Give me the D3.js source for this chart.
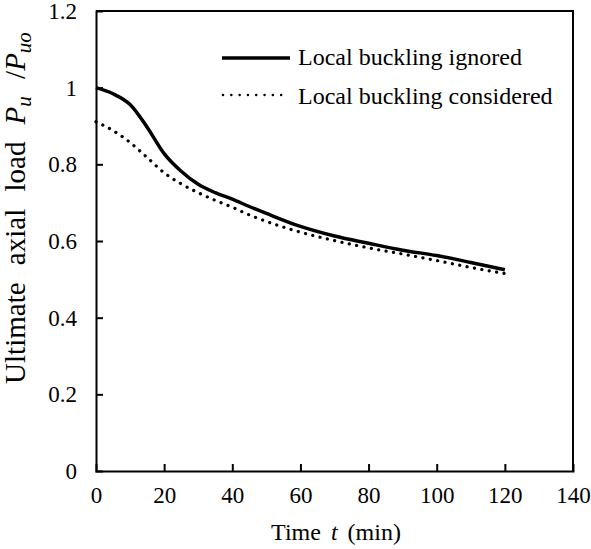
<!DOCTYPE html>
<html>
<head>
<meta charset="utf-8">
<script src="https://cdn.jsdelivr.net/npm/d3@7"></script>
</head>
<body style="margin:0">
<svg id="chart"></svg>
<script>
let width = 591
let height = 549
let margin = { top: 11, right: 18, bottom: 78, left: 96 }
let serif = "'Liberation Serif'"

// time (min)
let times = [0, 5, 10, 15, 20, 25, 30, 35, 40, 45, 50, 60, 70, 80, 90, 100, 110, 120]
let ignored = [1.0, 0.984, 0.956, 0.897, 0.828, 0.782, 0.748, 0.726, 0.709, 0.69, 0.672, 0.638, 0.613, 0.594, 0.576, 0.562, 0.544, 0.525]
let considered = [0.911, 0.888, 0.857, 0.818, 0.778, 0.749, 0.726, 0.706, 0.688, 0.668, 0.651, 0.623, 0.601, 0.582, 0.566, 0.549, 0.531, 0.515]

let xTicks = [0, 20, 40, 60, 80, 100, 120, 140]
let yTicks = [0, 0.2, 0.4, 0.6, 0.8, 1, 1.2]
let seriesNames = ['Local buckling ignored', 'Local buckling considered']

let svg = d3.select('#chart').attr('width', width).attr('height', height)

let xScale = d3.scaleLinear().domain([0, 140]).range([margin.left, width - margin.right])
let yScale = d3.scaleLinear().domain([0, 1.2]).range([height - margin.bottom, margin.top])

// axes with inward ticks
let xAxis = d3.axisBottom(xScale).tickValues(xTicks).tickSize(-7).tickPadding(16).tickFormat(d3.format('d'))
let yAxis = d3.axisLeft(yScale).tickValues(yTicks).tickSize(-7).tickPadding(19).tickFormat(d => d === 0 || d === 1 ? d : d3.format('.1f')(d))

let gx = svg.append('g').attr('transform', `translate(0,${height - margin.bottom})`).call(xAxis)
let gy = svg.append('g').attr('transform', `translate(${margin.left},0)`).call(yAxis)

;[gx, gy].forEach(g => {
  g.select('.domain').attr('stroke', '#000').attr('stroke-width', 2)
  g.selectAll('.tick line').attr('stroke', '#000').attr('stroke-width', 2)
  g.selectAll('.tick text').attr('fill', '#000')
    .attr('font-family', serif).attr('font-size', 23)
})
gx.selectAll('.tick').filter(d => d === 0 || d === 140).select('line').remove()
gy.selectAll('.tick').filter(d => d === 0 || d === 1.2).select('line').remove()

// frame top and right
svg.append('path')
  .attr('d', `M${xScale(0)},${yScale(1.2)}H${xScale(140)}V${yScale(0)}`)
  .attr('fill', 'none').attr('stroke', '#000').attr('stroke-width', 2)

let line = d3.line().curve(d3.curveMonotoneX)
  .x(d => xScale(d[0])).y(d => yScale(d[1]))

svg.append('path')
  .datum(times.map((t, i) => [t, ignored[i]]))
  .attr('d', line)
  .attr('fill', 'none').attr('stroke', '#000').attr('stroke-width', 3.5)

svg.append('path')
  .datum(times.map((t, i) => [t, considered[i]]))
  .attr('d', line)
  .attr('fill', 'none').attr('stroke', '#000').attr('stroke-width', 3.2)
  .attr('stroke-linecap', 'round').attr('stroke-dasharray', '0.1 7.4')

// legend
let legend = svg.append('g')
legend.append('line').attr('x1', 222).attr('x2', 290).attr('y1', 58).attr('y2', 58)
  .attr('stroke', '#000').attr('stroke-width', 3.5)
legend.append('line').attr('x1', 223).attr('x2', 289).attr('y1', 95).attr('y2', 95)
  .attr('stroke', '#000').attr('stroke-width', 2.4)
  .attr('stroke-linecap', 'round').attr('stroke-dasharray', '0.1 8.2')
legend.selectAll('text.leg').data(seriesNames).enter().append('text')
  .attr('class', 'leg')
  .attr('x', 298).attr('y', (d, i) => i ? 104 : 65)
  .attr('font-family', serif).attr('font-size', 24)
  .text(d => d)

// axis titles
let xt = svg.append('text').attr('x', 336).attr('y', 540).attr('text-anchor', 'middle')
  .attr('font-family', serif).attr('font-size', 24).attr('word-spacing', 4)
xt.append('tspan').text('Time ')
xt.append('tspan').attr('font-style', 'italic').text('t')
xt.append('tspan').text(' (min)')

let yt = svg.append('text')
  .attr('transform', 'translate(25,208) rotate(-90)')
  .attr('text-anchor', 'middle')
  .attr('font-family', serif).attr('font-size', 29).attr('word-spacing', 10)
yt.append('tspan').text('Ultimate axial load ')
yt.append('tspan').attr('font-style', 'italic').text('P')
yt.append('tspan').attr('font-style', 'italic').attr('dy', 6).attr('font-size', 21).text('u')
yt.append('tspan').attr('dy', -6).text(' /')
yt.append('tspan').attr('font-style', 'italic').text('P')
yt.append('tspan').attr('font-style', 'italic').attr('dy', 6).attr('font-size', 21).text('uo')
</script>
</body>
</html>
